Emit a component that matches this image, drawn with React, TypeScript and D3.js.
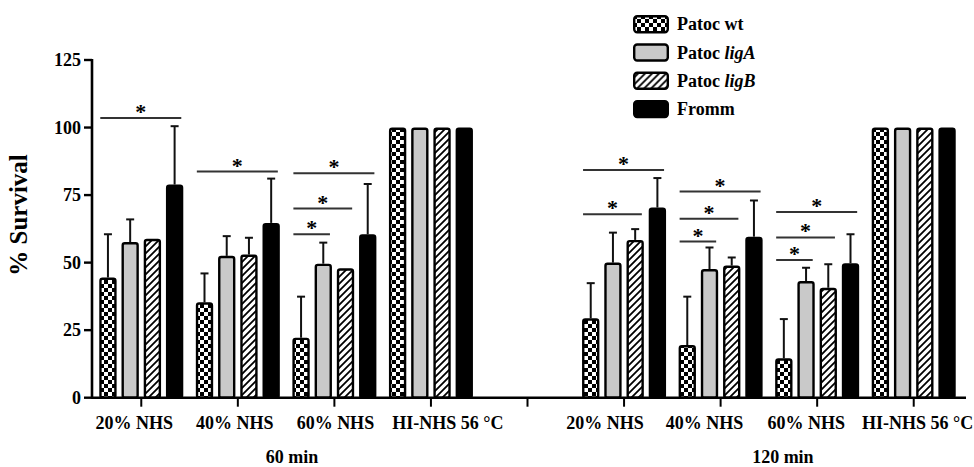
import React, { useEffect, useRef } from 'react';
import * as d3 from 'd3';

// categories and series
const categories = ['20% NHS', '40% NHS', '60% NHS', 'HI-NHS 56 °C'];
const timepoints = ['60 min', '120 min'];
const seriesNames = ['Patoc wt', 'Patoc ligA', 'Patoc ligB', 'Fromm'];

// % survival means (per category) and upper error (SD)
const wt60 = [44.5, 35.3, 22.2, 100];
const ligA60 = [57.6, 52.5, 49.6, 100];
const ligB60 = [58.8, 53.0, 47.9, 100];
const fromm60 = [78.9, 64.7, 60.5, 100];
const wt60Err = [16.0, 10.7, 15.2, 0];
const ligA60Err = [8.4, 7.3, 7.8, 0];
const ligB60Err = [0, 6.2, 0, 0];
const fromm60Err = [21.6, 16.4, 18.6, 0];

const wt120 = [29.4, 19.5, 14.6, 100];
const ligA120 = [50.0, 47.6, 43.2, 100];
const ligB120 = [58.4, 48.9, 40.7, 100];
const fromm120 = [70.4, 59.6, 49.8, 100];
const wt120Err = [13.0, 17.9, 14.5, 0];
const ligA120Err = [11.1, 8.0, 4.9, 0];
const ligB120Err = [4.0, 3.0, 8.7, 0];
const fromm120Err = [10.9, 13.4, 10.7, 0];

const yTicks = [0, 25, 50, 75, 100, 125];

// significance: [category index, compared series index (vs wt), bracket height]
const sig60 = [[0, 3, 103.5], [1, 3, 83.7], [2, 1, 60.5], [2, 2, 70], [2, 3, 83.1]];
const sig120 = [[0, 2, 67.9], [0, 3, 84.3], [1, 1, 57.8], [1, 2, 66.2], [1, 3, 76.3], [2, 1, 51], [2, 2, 59.3], [2, 3, 68.7]];

// label nudges (px) per category, the original labels are not centred on ticks
const labelShift60 = [-7, -3, 1, 17];
const labelShift120 = [-19, -16, -11, 4];

const FONT = "'Liberation Serif', 'DejaVu Serif', serif";

export default function App() {
  const svgRef = useRef<SVGSVGElement | null>(null);

  useEffect(() => {
    const W = 974, H = 467;
    const svg = d3.select(svgRef.current).attr('width', W).attr('height', H);
    svg.selectAll('*').remove();

    const defs = svg.append('defs');
    const checker = defs.append('pattern').attr('id', 'checker')
      .attr('patternUnits', 'userSpaceOnUse').attr('width', 8).attr('height', 8);
    checker.append('rect').attr('width', 8).attr('height', 8).attr('fill', '#fff');
    checker.append('rect').attr('width', 4).attr('height', 4).attr('fill', '#000');
    checker.append('rect').attr('x', 4).attr('y', 4).attr('width', 4).attr('height', 4).attr('fill', '#000');

    const hatch = defs.append('pattern').attr('id', 'hatch')
      .attr('patternUnits', 'userSpaceOnUse').attr('width', 7).attr('height', 7);
    hatch.append('rect').attr('width', 7).attr('height', 7).attr('fill', '#fff');
    hatch.append('path').attr('d', 'M-1,1 l2,-2 M0,7 l7,-7 M6,8 l2,-2')
      .attr('stroke', '#000').attr('stroke-width', 1.8);

    const fills = ['url(#checker)', '#c9c9c9', 'url(#hatch)', '#000'];

    const means = [[wt60, ligA60, ligB60, fromm60], [wt120, ligA120, ligB120, fromm120]];
    const errs = [[wt60Err, ligA60Err, ligB60Err, fromm60Err], [wt120Err, ligA120Err, ligB120Err, fromm120Err]];
    const sigs = [sig60, sig120];
    const shifts = [labelShift60, labelShift120];

    const slots: string[] = [];
    timepoints.forEach((t, ti) => {
      if (ti > 0) slots.push('gap');
      categories.forEach((c, ci) => slots.push(`${ti}|${ci}`));
    });

    const x0 = d3.scaleBand<string>().domain(slots).range([93, 962]);
    const groupW = 84;
    const x1 = d3.scaleBand<string>().domain(seriesNames).range([0, groupW]).paddingInner(0.22);
    const y = d3.scaleLinear().domain([0, 125]).range([397.7, 60]);
    const axisX = 92;

    const groupLeft = (ti: number, ci: number) =>
      (x0(`${ti}|${ci}`) as number) + (x0.bandwidth() - groupW) / 2;
    const barX = (ti: number, ci: number, si: number) => groupLeft(ti, ci) + (x1(seriesNames[si]) as number);
    const bw = x1.bandwidth();

    const g = svg.append('g').style('font-family', FONT).style('font-weight', 'bold');

    // bars + error bars
    timepoints.forEach((t, ti) => {
      categories.forEach((c, ci) => {
        seriesNames.forEach((s, si) => {
          const v = means[ti][si][ci];
          const e = errs[ti][si][ci];
          const bx = barX(ti, ci, si);
          const cx = bx + bw / 2;
          if (e > 0) {
            g.append('line').attr('x1', cx).attr('x2', cx).attr('y1', y(v)).attr('y2', y(v + e))
              .attr('stroke', '#111').attr('stroke-width', 2);
            g.append('line').attr('x1', cx - 4).attr('x2', cx + 4).attr('y1', y(v + e)).attr('y2', y(v + e))
              .attr('stroke', '#111').attr('stroke-width', 2);
          }
          g.append('rect')
            .attr('x', bx + 1.2).attr('width', bw - 2.4)
            .attr('y', y(v) + 1.2).attr('height', y(0) - y(v) - 1.2)
            .attr('rx', 2).attr('ry', 2)
            .attr('fill', fills[si]).attr('stroke', '#000').attr('stroke-width', 2.4);
        });

        // tick labels
        g.append('text')
          .attr('x', groupLeft(ti, ci) + groupW / 2 + shifts[ti][ci])
          .attr('y', 429)
          .attr('text-anchor', 'middle')
          .style('font-size', '18px')
          .text(c);
      });

      // significance brackets
      sigs[ti].forEach(([ci, si, h]) => {
        const xa = barX(ti, ci, 0) + 1;
        const xb = barX(ti, ci, si) + bw - 2;
        g.append('line').attr('x1', xa).attr('x2', xb).attr('y1', y(h)).attr('y2', y(h))
          .attr('stroke', '#333').attr('stroke-width', 2);
        g.append('text').attr('x', (xa + xb) / 2).attr('y', y(h) + 1)
          .attr('text-anchor', 'middle')
          .style('font-size', '22px')
          .text('*');
      });

      // time label
      const first = groupLeft(ti, 0);
      const last = groupLeft(ti, categories.length - 1) + groupW;
      g.append('text')
        .attr('x', (first + last) / 2 + (ti === 0 ? 6 : 14))
        .attr('y', 463)
        .attr('text-anchor', 'middle')
        .style('font-size', '18px')
        .text(t);
    });

    // x axis line + ticks
    g.append('line').attr('x1', axisX).attr('x2', 966).attr('y1', y(0)).attr('y2', y(0))
      .attr('stroke', '#000').attr('stroke-width', 2.6);
    slots.forEach(sl => {
      const tx = (x0(sl) as number) + x0.bandwidth() / 2;
      g.append('line').attr('x1', tx).attr('x2', tx).attr('y1', y(0)).attr('y2', y(0) + 9)
        .attr('stroke', '#000').attr('stroke-width', 2);
    });

    // y axis
    g.append('line').attr('x1', axisX).attr('x2', axisX).attr('y1', y(125) - 1).attr('y2', y(0) + 1)
      .attr('stroke', '#000').attr('stroke-width', 2.6);
    yTicks.forEach(tv => {
      g.append('line').attr('x1', axisX - 8).attr('x2', axisX).attr('y1', y(tv)).attr('y2', y(tv))
        .attr('stroke', '#000').attr('stroke-width', 2.4);
      g.append('text').attr('x', axisX - 11).attr('y', y(tv)).attr('dy', '0.35em')
        .attr('text-anchor', 'end')
        .style('font-size', '18px')
        .text(tv);
    });

    g.append('text')
      .attr('transform', `translate(27,215) rotate(-90)`)
      .attr('text-anchor', 'middle')
      .style('font-size', '25px')
      .text('% Survival');

    // legend
    const lg = svg.append('g').attr('transform', 'translate(633,15)')
      .style('font-family', FONT).style('font-weight', 'bold');
    seriesNames.forEach((s, si) => {
      const row = lg.append('g').attr('transform', `translate(0,${si * 28.3})`);
      row.append('rect').attr('x', 1.2).attr('y', 1.2).attr('width', 33.6).attr('height', 16)
        .attr('rx', 3).attr('ry', 3)
        .attr('fill', fills[si]).attr('stroke', '#000').attr('stroke-width', 2.4);
      const txt = row.append('text').attr('x', 44).attr('y', 9).attr('dy', '0.35em')
        .style('font-size', '18px');
      const parts = s.split(' ');
      if (parts.length > 1 && parts[1].startsWith('lig')) {
        txt.append('tspan').text(parts[0] + ' ');
        txt.append('tspan').style('font-style', 'italic').text(parts[1]);
      } else {
        txt.text(s);
      }
    });
  }, []);

  return (
    <svg ref={svgRef} style={{ position: 'absolute', left: 0, top: 0, background: '#fff' }} />
  );
}
